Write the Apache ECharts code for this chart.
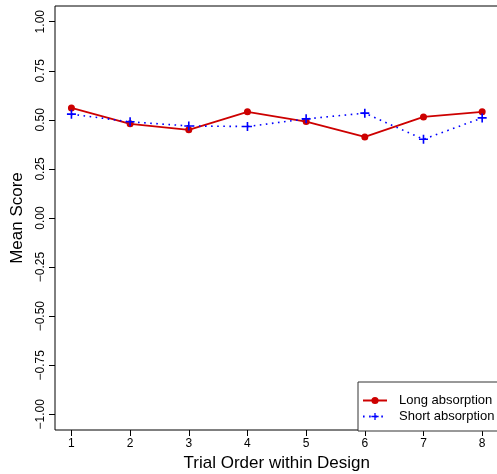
<!DOCTYPE html>
<html lang="en">
<head>
<meta charset="UTF-8">
<title>Mean Score by Trial Order</title>
<script src="https://cdn.jsdelivr.net/npm/echarts@6/dist/echarts.min.js"></script>
<style>
  html, body { margin: 0; padding: 0; background: #fff; }
  #cc { width: 497px; height: 474px; }
</style>
</head>
<body>
<div id="cc"></div>
<script>
var trials = [1, 2, 3, 4, 5, 6, 7, 8];
var longAbsorption = [0.561, 0.480, 0.449, 0.541, 0.491, 0.413, 0.515, 0.541];
var shortAbsorption = [0.529, 0.490, 0.469, 0.466, 0.505, 0.534, 0.401, 0.510];
var yTicks = [-1, -0.75, -0.5, -0.25, 0, 0.25, 0.5, 0.75, 1];

var FONT = '"Liberation Sans", Arial, Helvetica, sans-serif';
var plus = 'path://M4.1,0H5.9V4.1H10V5.9H5.9V10H4.1V5.9H0V4.1H4.1Z';

function pairs(ys) {
    return trials.map(function (t, i) { return [t, ys[i]]; });
}

var chart = echarts.init(document.getElementById('cc'));

chart.setOption({
    animation: false,
    textStyle: { fontFamily: FONT },
    grid: {
        left: 55, top: 6, width: 443.6, height: 424,
        containLabel: false, outerBoundsMode: 'none',
        show: true, borderColor: '#000', borderWidth: 1
    },
    xAxis: {
        type: 'value',
        min: 0.72, max: 8.28,
        name: 'Trial Order within Design',
        nameLocation: 'middle',
        nameGap: 24,
        nameTextStyle: { fontSize: 17, color: '#000', fontFamily: FONT },
        axisLine: { show: false, onZero: false },
        splitLine: { show: false },
        axisTick: { show: true, length: 6, lineStyle: { color: '#000' }, customValues: trials },
        axisLabel: { fontSize: 12, color: '#000', margin: 8, customValues: trials, fontFamily: FONT }
    },
    yAxis: {
        type: 'value',
        min: -1.08, max: 1.08,
        name: 'Mean Score',
        nameLocation: 'middle',
        nameGap: 29,
        nameTextStyle: { fontSize: 17, color: '#000', fontFamily: FONT },
        axisLine: { show: false, onZero: false },
        splitLine: { show: false },
        axisTick: { show: true, length: 6, lineStyle: { color: '#000' }, customValues: yTicks },
        axisLabel: {
            fontSize: 12, color: '#000', rotate: 90, margin: 8,
            customValues: yTicks, fontFamily: FONT,
            formatter: function (v) {
                return (v < 0 ? '\u2212' : '') + Math.abs(v).toFixed(2);
            }
        }
    },
    legend: {
        left: 358, top: 382,
        orient: 'vertical',
        backgroundColor: '#fff',
        borderColor: '#333', borderWidth: 1,
        padding: [12, 12, 8, 4],
        itemWidth: 24, itemHeight: 9, itemGap: 3,
        textStyle: { fontSize: 13, color: '#000', padding: [0, 0, 0, 7], fontFamily: FONT },
        data: ['Long absorption', 'Short absorption']
    },
    series: [{
        name: 'Long absorption',
        type: 'line',
        data: pairs(longAbsorption),
        symbol: 'circle',
        symbolSize: 7,
        itemStyle: { color: '#CD0000' },
        lineStyle: { color: '#CD0000', width: 1.8 }
    }, {
        name: 'Short absorption',
        type: 'line',
        data: pairs(shortAbsorption),
        symbol: plus,
        symbolSize: 9,
        itemStyle: { color: '#0000FF' },
        lineStyle: { color: '#0000FF', width: 1.6, type: [1.6, 4.5] }
    }]
});
</script>
</body>
</html>
